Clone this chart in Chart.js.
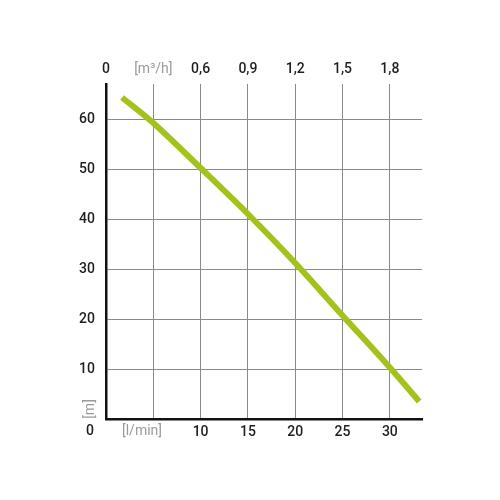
<!DOCTYPE html>
<html>
<head>
<meta charset="utf-8">
<script src="https://cdn.jsdelivr.net/npm/chart.js@4/dist/chart.umd.min.js"></script>
<style>
  html, body { margin: 0; padding: 0; background: #fff; }
  canvas { display: block; }
</style>
</head>
<body>
<canvas id="pumpChart" width="500" height="500"></canvas>
<script>
// flow in l/min and head in m
const flowLpm = [1.7, 5, 10, 15, 20, 25, 30, 33.1];
const headM   = [64.3, 59.2, 50.2, 41.0, 31.2, 20.7, 10.3, 3.5];

// bottom axis ticks (l/min) and top axis labels (m3/h)
const flowTicks = [0, 5, 10, 15, 20, 25, 30];
const m3hLabels = ['0', '[m³/h]', '0,6', '0,9', '1,2', '1,5', '1,8'];
const headTicks = [0, 10, 20, 30, 40, 50, 60];

const xMax = 33.4;
const yMax = 67;

const curveColor = '#a3c21c';
const gridColor = '#8a8a8a';
const darkText = '#1e1e1e';
const unitText = '#9a9a9a';
const fontFamily = 'Roboto, "DejaVu Sans", sans-serif';

// extra labels that sit off the normal tick positions
const cornerLabels = {
    id: 'cornerLabels',
    afterDraw(chart) {
        const ctx = chart.ctx;
        const area = chart.chartArea;
        ctx.save();
        ctx.font = '500 14px ' + fontFamily;
        ctx.fillStyle = darkText;
        ctx.textAlign = 'center';
        ctx.textBaseline = 'middle';
        ctx.fillText('0', area.left - 16, area.bottom + 12);

        ctx.font = '400 14px ' + fontFamily;
        ctx.fillStyle = unitText;
        ctx.fillText('[l/min]', area.left + 36, area.bottom + 12);

        ctx.translate(area.left - 16, area.bottom - 10);
        ctx.rotate(-Math.PI / 2);
        ctx.fillText('[m]', 0, 0);
        ctx.restore();
    }
};

const ctx = document.getElementById('pumpChart').getContext('2d');

new Chart(ctx, {
    type: 'line',
    data: {
        datasets: [{
            data: flowLpm.map((f, i) => ({ x: f, y: headM[i] })),
            borderColor: curveColor,
            borderWidth: 6,
            borderCapStyle: 'butt',
            pointRadius: 0,
            fill: false,
            tension: 0.35
        }]
    },
    options: {
        responsive: false,
        animation: false,
        layout: { padding: { left: 0, top: 0, bottom: 0, right: 78 } },
        plugins: {
            legend: { display: false },
            tooltip: { enabled: false }
        },
        scales: {
            x: {
                type: 'linear',
                position: 'bottom',
                min: 0,
                max: xMax,
                afterFit: s => { s.height = 81; },
                afterBuildTicks: s => { s.ticks = flowTicks.map(v => ({ value: v })); },
                border: { display: true, color: '#111', width: 2.5 },
                grid: { color: gridColor, lineWidth: 1, drawTicks: false },
                ticks: {
                    padding: 5,
                    color: darkText,
                    font: { family: fontFamily, size: 14, weight: '500' },
                    callback: v => (v === 0 || v === 5) ? '' : String(v)
                }
            },
            x2: {
                type: 'linear',
                position: 'top',
                min: 0,
                max: xMax,
                afterFit: s => { s.height = 84; },
                afterBuildTicks: s => { s.ticks = flowTicks.map(v => ({ value: v })); },
                border: { display: false },
                grid: { display: false, drawTicks: false },
                ticks: {
                    padding: 6,
                    color: c => c.index === 1 ? unitText : darkText,
                    font: c => ({ family: fontFamily, size: 14, weight: c.index === 1 ? '400' : '500' }),
                    callback: (v, i) => m3hLabels[i]
                }
            },
            y: {
                type: 'linear',
                min: 0,
                max: yMax,
                afterFit: s => { s.width = 106; },
                afterBuildTicks: s => { s.ticks = headTicks.map(v => ({ value: v })); },
                border: { display: true, color: '#111', width: 2.5 },
                grid: { color: gridColor, lineWidth: 1, drawTicks: false },
                ticks: {
                    padding: 11,
                    color: darkText,
                    font: { family: fontFamily, size: 14, weight: '500' },
                    callback: v => v === 0 ? '' : String(v)
                }
            }
        }
    },
    plugins: [cornerLabels]
});
</script>
</body>
</html>
